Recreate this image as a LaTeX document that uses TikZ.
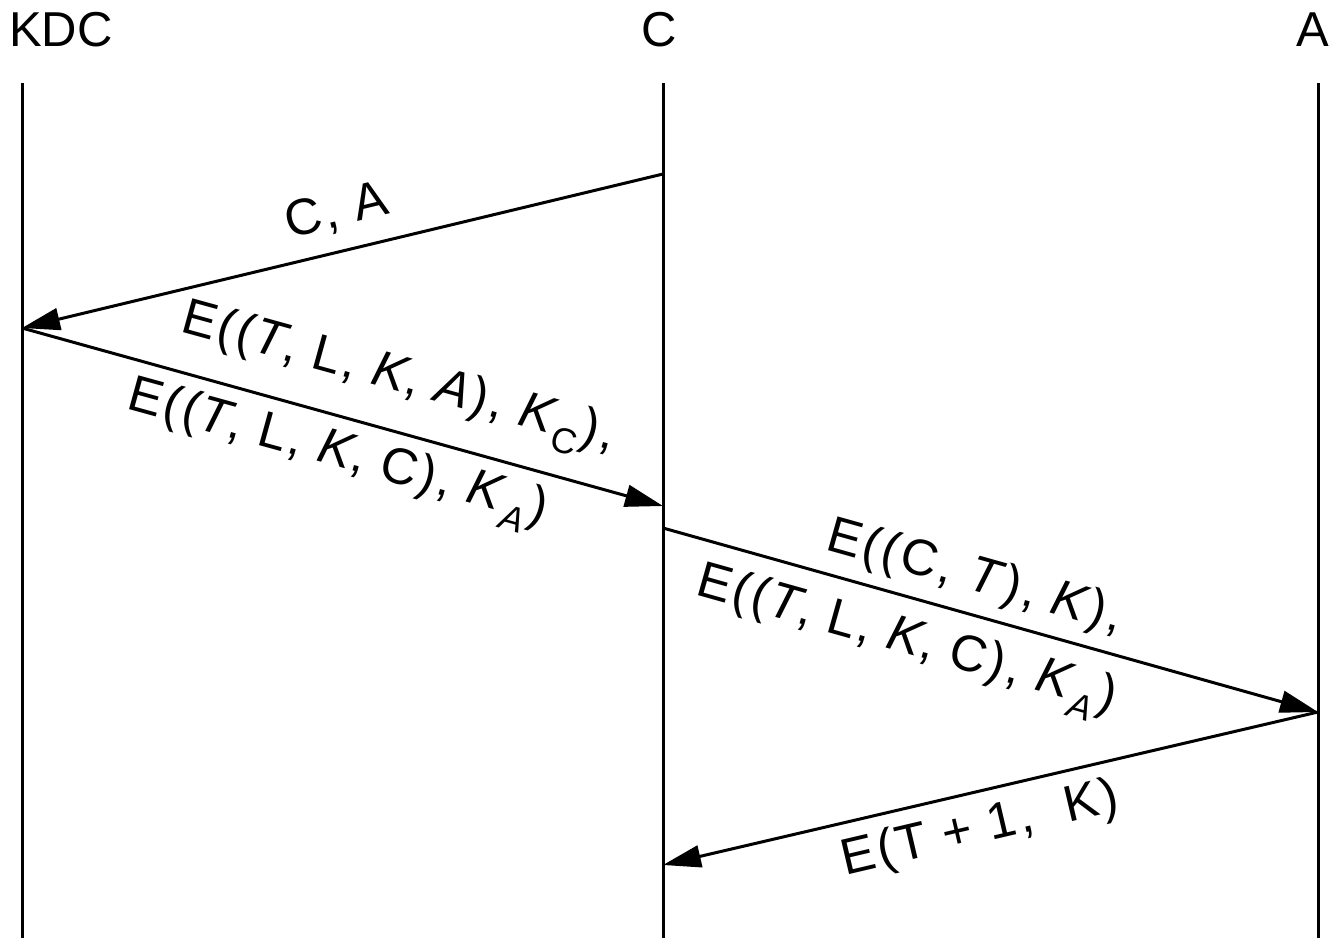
\documentclass[tikz,border=0pt]{standalone}
\usepackage{fontspec}
\setmainfont{Liberation Sans}
\usetikzlibrary{arrows.meta}
\begin{document}
\begin{tikzpicture}[x=1pt,y=-1pt,
  life/.style={line width=3pt},
  msg/.style={line width=3pt,-{Triangle[length=38pt,width=22pt]}},
  head/.style={inner sep=0pt,font=\fontsize{49}{58}\selectfont},
  lbl/.style={inner sep=0pt,font=\fontsize{51}{60}\selectfont\addfontfeature{LetterSpace=5}}]
\useasboundingbox (0,0) rectangle (1330,938);
% headers
\node[head] (hkdc) at (61,30) {KDC};
\node[head] (hc) at (659,30) {C};
\node[head] (ha) at (1313,30) {A};
% lifelines
\coordinate (kt) at (22,83);  \coordinate (kb) at (22,938);
\coordinate (ct) at (663,83); \coordinate (cb) at (663,938);
\coordinate (at) at (1318,83); \coordinate (ab) at (1318,938);
\draw[life] (kt) -- (kb);
\draw[life] (ct) -- (cb);
\draw[life] (at) -- (ab);
% message points
\coordinate (m1s) at (663,174); \coordinate (m1e) at (22,328);
\coordinate (m2e) at (663,506);
\coordinate (m3s) at (663,528); \coordinate (m3e) at (1318,712);
\coordinate (m4e) at (663,865);
\draw[msg] (m1s) -- (m1e);
\draw[msg] (m1e) -- (m2e);
\draw[msg] (m3s) -- (m3e);
\draw[msg] (m3e) -- (m4e);
% labels
\node[lbl,rotate=13.5] (l1) at (337,212) {C, A};
\node[lbl,rotate=-15.4] (l2a) at (398,381) {E((\textit{T}, L, \textit{K}, \textit{A}), \textit{K}\textsubscript{C}),};
\node[lbl,rotate=-15.4] (l2b) at (337,456) {E((\textit{T}, L, \textit{K}, C), \textit{K}\textsubscript{\textit{A}})};
\node[lbl,rotate=-15.7] (l3a) at (975,578) {E((C, \textit{T}), \textit{K}),};
\node[lbl,rotate=-15.7] (l3b) at (906,643) {E((\textit{T}, L, \textit{K}, C), \textit{K}\textsubscript{\textit{A}})};
\node[lbl,rotate=13.2] (l4) at (980,830) {E(T + 1,\ \ K)};
\end{tikzpicture}
\end{document}
